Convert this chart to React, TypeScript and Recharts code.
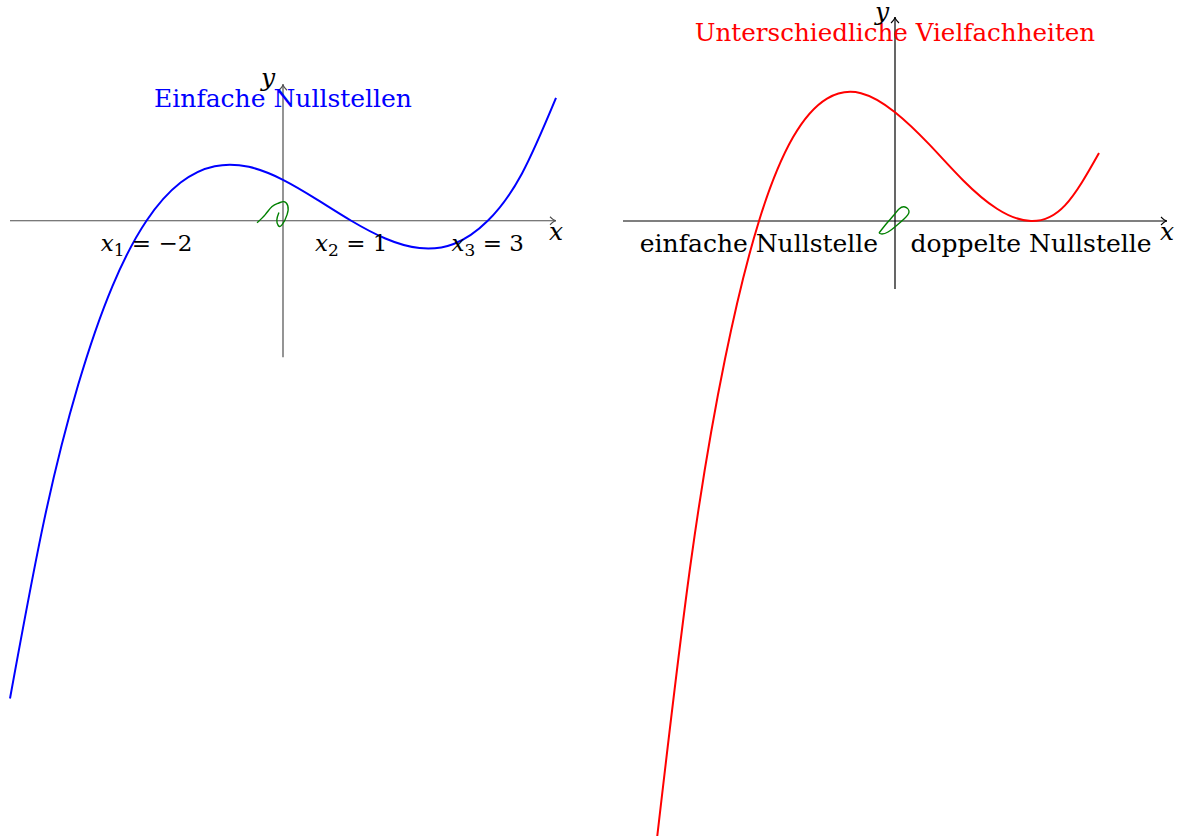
import React from "react";
import { LineChart, Line, XAxis, YAxis, ReferenceLine, ReferenceDot } from "recharts";

// f(x) = 0.1(x+2)(x-1)(x-3)
const LEFT_X = [-4, -3.5, -3, -2.5, -2, -1.5, -1, -0.5, 0, 0.5, 1, 1.5, 2, 2.5, 3, 3.5, 4];
const LEFT_Y = [-7.0, -4.39, -2.4, -0.96, 0, 0.56, 0.8, 0.79, 0.6, 0.31, 0, -0.26, -0.4, -0.34, 0, 0.69, 1.8];

// g(x) = 0.2(x+2)(x-2)^2
const RIGHT_X = [-3.5, -3, -2.5, -2, -1.5, -1, -0.5, 0, 0.5, 1, 1.5, 2, 2.5, 3];
const RIGHT_Y = [-9.08, -5, -2.03, 0, 1.23, 1.8, 1.88, 1.6, 1.13, 0.6, 0.18, 0, 0.23, 1.0];

// grüne Schleifen am Ursprung
const LOOP_L_X = [-0.38, -0.26, -0.16, -0.06, 0.015, 0.07, 0.06, -0.015, -0.07, -0.09, -0.06];
const LOOP_L_Y = [-0.03, 0.09, 0.21, 0.26, 0.28, 0.22, 0.09, -0.06, -0.07, 0.015, 0.12];
const LOOP_R_X = [-0.235, -0.118, -0.015, 0.059, 0.147, 0.206, 0.132, 0.015, -0.103, -0.191, -0.235];
const LOOP_R_Y = [-0.176, -0.029, 0.088, 0.176, 0.206, 0.132, 0.029, -0.074, -0.162, -0.191, -0.176];

const LEFT_ROOTS = [-2, 1, 3];
const LEFT_ROOT_IDX = ["1", "2", "3"];
const LEFT_ROOT_TEXT = ["\u22122", "1", "3"];
const RIGHT_ROOTS = [-2, 2];
const RIGHT_ROOT_TEXT = ["einfache Nullstelle", "doppelte Nullstelle"];

const LEFT_TITLE = "Einfache Nullstellen";
const RIGHT_TITLE = "Unterschiedliche Vielfachheiten";

const FONT = "'DejaVu Serif', serif";
const FS = 25;

const pts = (xs: number[], ys: number[]) => xs.map((x, i) => ({ x, y: ys[i] }));

function AxisArrow(props: any) {
  const { x1, y1, x2, y2, color } = props;
  const len = Math.hypot(x2 - x1, y2 - y1) || 1;
  const dx = (x2 - x1) / len;
  const dy = (y2 - y1) / len;
  const nx = -dy;
  const ny = dx;
  const bx = x2 - dx * 6;
  const by = y2 - dy * 6;
  return (
    <g>
      <line x1={x1} y1={y1} x2={x2} y2={y2} stroke={color} strokeWidth={1.2} />
      <path
        d={`M${bx + nx * 4},${by + ny * 4} Q${x2 - dx * 2},${y2 - dy * 2} ${x2},${y2} Q${x2 - dx * 2},${y2 - dy * 2} ${bx - nx * 4},${by - ny * 4}`}
        fill="none"
        stroke={color}
        strokeWidth={1.1}
      />
    </g>
  );
}

const textAt = (
  content: React.ReactNode,
  opts: { anchor?: string; dx?: number; dy?: number; fill?: string; italic?: boolean; size?: number }
) =>
  (p: any) => (
    <text
      x={p.cx + (opts.dx || 0)}
      y={p.cy + (opts.dy || 0)}
      textAnchor={opts.anchor || "middle"}
      fontFamily={FONT}
      fontSize={opts.size || FS}
      fontStyle={opts.italic ? "italic" : "normal"}
      fill={opts.fill || "#000"}
    >
      {content}
    </text>
  );

const rootLabel = (idx: string, val: string) => (
  <>
    <tspan fontStyle="italic">x</tspan>
    <tspan fontSize={17} dy={5}>{idx}</tspan>
    <tspan dy={-5}>{" = " + val}</tspan>
  </>
);

export default function App() {
  const leftAxis = "#4d4d4d";
  return (
    <div style={{ position: "fixed", left: 0, top: 0, width: 1183, height: 836, overflow: "hidden", background: "#fff" }}>
      <div style={{ position: "absolute", left: 0, top: 0 }}>
        <LineChart width={566} height={835} margin={{ top: 16, right: 10, bottom: 0, left: 10 }}>
          <XAxis type="number" dataKey="x" domain={[-4, 4]} hide />
          <YAxis type="number" dataKey="y" domain={[-9, 3]} hide />
          <ReferenceLine segment={[{ x: -4, y: 0 }, { x: 4, y: 0 }]} shape={(p: any) => <AxisArrow {...p} color={leftAxis} />} />
          <ReferenceLine segment={[{ x: 0, y: -2 }, { x: 0, y: 2 }]} shape={(p: any) => <AxisArrow {...p} color={leftAxis} />} />
          <Line data={pts(LEFT_X, LEFT_Y)} dataKey="y" type="natural" stroke="#0000ff" strokeWidth={2} dot={false} isAnimationActive={false} />
          <Line data={pts(LOOP_L_X, LOOP_L_Y)} dataKey="y" type="natural" stroke="#008000" strokeWidth={1.4} dot={false} isAnimationActive={false} />
          <ReferenceDot x={0} y={1.66} r={0} shape={textAt(LEFT_TITLE, { fill: "#0000ff" })} />
          <ReferenceDot x={0} y={2} r={0} shape={textAt("y", { anchor: "end", dx: -8, dy: 2, italic: true })} />
          <ReferenceDot x={4} y={0} r={0} shape={textAt("x", { dy: 19, italic: true })} />
          {LEFT_ROOTS.map((r, i) => (
            <ReferenceDot key={i} x={r} y={-0.45} r={0} shape={textAt(rootLabel(LEFT_ROOT_IDX[i], LEFT_ROOT_TEXT[i]), { size: 23 })} />
          ))}
        </LineChart>
      </div>
      <div style={{ position: "absolute", left: 613, top: 0 }}>
        <LineChart width={564} height={867} margin={{ top: 17, right: 10, bottom: 0, left: 10 }}>
          <XAxis type="number" dataKey="x" domain={[-4, 4]} hide />
          <YAxis type="number" dataKey="y" domain={[-9.5, 3]} hide />
          <ReferenceLine segment={[{ x: -4, y: 0 }, { x: 4, y: 0 }]} shape={(p: any) => <AxisArrow {...p} color="#000" />} />
          <ReferenceLine segment={[{ x: 0, y: -1 }, { x: 0, y: 3 }]} shape={(p: any) => <AxisArrow {...p} color="#000" />} />
          <Line data={pts(RIGHT_X, RIGHT_Y)} dataKey="y" type="natural" stroke="#ff0000" strokeWidth={2} dot={false} isAnimationActive={false} />
          <Line data={pts(LOOP_R_X, LOOP_R_Y)} dataKey="y" type="natural" stroke="#008000" strokeWidth={1.4} dot={false} isAnimationActive={false} />
          <ReferenceDot x={0} y={2.65} r={0} shape={textAt(RIGHT_TITLE, { fill: "#ff0000", size: 24.6 })} />
          <ReferenceDot x={0} y={3} r={0} shape={textAt("y", { anchor: "end", dx: -6, dy: 3, italic: true })} />
          <ReferenceDot x={4} y={0} r={0} shape={textAt("x", { dy: 19, italic: true })} />
          {RIGHT_ROOTS.map((r, i) => (
            <ReferenceDot key={i} x={r} y={-0.45} r={0} shape={textAt(RIGHT_ROOT_TEXT[i], {})} />
          ))}
        </LineChart>
      </div>
    </div>
  );
}
